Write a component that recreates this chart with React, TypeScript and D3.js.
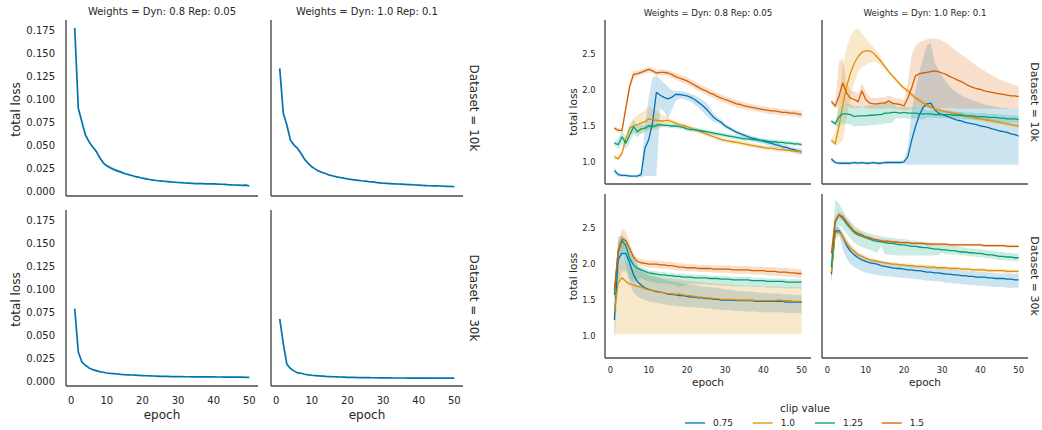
import React from "react";
import * as d3 from "d3";

// ---------------- DATA ----------------
const epochs = d3.range(1, 51);
const colTitles = ["Weights = Dyn: 0.8 Rep: 0.05", "Weights = Dyn: 1.0 Rep: 0.1"];
const rowTitles = ["Dataset = 10k", "Dataset = 30k"];
const clipValues = ["0.75", "1.0", "1.25", "1.5"];
const clipColors = ["#0173b2", "#de8f05", "#029e73", "#d55e00"];
const leftYTicks = [0, 0.025, 0.05, 0.075, 0.1, 0.125, 0.15, 0.175];
const rightYTicks = [1.0, 1.5, 2.0, 2.5];
const xTicks = [0, 10, 20, 30, 40, 50];

// left figure: total loss (single series per facet)
const lossA10 = [
  0.178, 0.0904, 0.0758, 0.0613, 0.054, 0.0485, 0.0437, 0.0368, 0.031, 0.0277,
  0.0255, 0.0237, 0.0222, 0.0208, 0.0193, 0.0182, 0.0171, 0.016, 0.0153, 0.0142,
  0.0135, 0.0128, 0.0122, 0.0117, 0.0113, 0.0109, 0.0105, 0.0101, 0.0098, 0.0095,
  0.0093, 0.009, 0.0088, 0.0086, 0.0084, 0.0083, 0.0082, 0.0081, 0.0081, 0.008,
  0.0078, 0.0076, 0.0074, 0.0071, 0.0069, 0.0068, 0.0066, 0.0064, 0.0066, 0.0058];
const ciA10 = [
  0.001, 0.001, 0.0008, 0.0008, 0.0008, 0.0008, 0.0008, 0.001, 0.0012, 0.0015,
  0.0018, 0.0018, 0.0016, 0.0015, 0.0014, 0.0012, 0.001, 0.0009, 0.0008, 0.0007,
  0.0006, 0.0006, 0.0005, 0.0005, 0.0005, 0.0005, 0.0005, 0.0005, 0.0005, 0.0005,
  0.0005, 0.0005, 0.0005, 0.0005, 0.0005, 0.0005, 0.0005, 0.0005, 0.0005, 0.0005,
  0.0005, 0.0005, 0.0005, 0.0005, 0.0005, 0.0005, 0.0005, 0.0005, 0.0005, 0.0005];
const lossB10 = [
  0.134, 0.085, 0.0722, 0.0558, 0.0503, 0.0467, 0.0412, 0.0347, 0.0303, 0.0266,
  0.0241, 0.0219, 0.0204, 0.019, 0.0175, 0.0166, 0.0157, 0.015, 0.0142, 0.0135,
  0.0129, 0.0124, 0.0119, 0.0114, 0.011, 0.0105, 0.0101, 0.0096, 0.0092, 0.0087,
  0.0085, 0.0083, 0.0081, 0.0079, 0.0077, 0.0075, 0.0073, 0.0071, 0.0068, 0.0066,
  0.0064, 0.0062, 0.006, 0.0059, 0.0058, 0.0057, 0.0055, 0.0054, 0.0052, 0.0051];
const ciB10 = [
  0.0008, 0.0008, 0.0006, 0.0006, 0.0006, 0.0006, 0.0006, 0.0006, 0.0006, 0.0005,
  0.0005, 0.0005, 0.0005, 0.0004, 0.0004, 0.0004, 0.0004, 0.0004, 0.0004, 0.0004,
  0.0004, 0.0004, 0.0004, 0.0004, 0.0004, 0.0004, 0.0004, 0.0004, 0.0004, 0.0004,
  0.0004, 0.0004, 0.0004, 0.0004, 0.0004, 0.0004, 0.0004, 0.0004, 0.0004, 0.0004,
  0.0004, 0.0004, 0.0004, 0.0004, 0.0004, 0.0004, 0.0004, 0.0004, 0.0004, 0.0004];
const lossA30 = [
  0.079, 0.0319, 0.021, 0.0174, 0.0145, 0.0127, 0.0116, 0.0105, 0.0098, 0.009,
  0.0086, 0.0083, 0.0079, 0.0075, 0.0072, 0.007, 0.0068, 0.0066, 0.0064, 0.0062,
  0.006, 0.0059, 0.0057, 0.0056, 0.0054, 0.0053, 0.0052, 0.0051, 0.0051, 0.005,
  0.005, 0.0049, 0.0049, 0.0048, 0.0048, 0.0048, 0.0047, 0.0047, 0.0047, 0.0047,
  0.0046, 0.0046, 0.0045, 0.0045, 0.0045, 0.0044, 0.0044, 0.0044, 0.0043, 0.0043];
const ciA30 = [
  0.0006, 0.0005, 0.0004, 0.0003, 0.0003, 0.0003, 0.0003, 0.0003, 0.0003, 0.0003,
  0.0003, 0.0003, 0.0003, 0.0003, 0.0003, 0.0003, 0.0003, 0.0003, 0.0003, 0.0003,
  0.0003, 0.0003, 0.0003, 0.0003, 0.0003, 0.0003, 0.0003, 0.0003, 0.0003, 0.0003,
  0.0003, 0.0003, 0.0003, 0.0003, 0.0003, 0.0003, 0.0003, 0.0003, 0.0003, 0.0003,
  0.0003, 0.0003, 0.0003, 0.0003, 0.0003, 0.0003, 0.0003, 0.0003, 0.0003, 0.0003];
const lossB30 = [
  0.068, 0.041, 0.0185, 0.0138, 0.0113, 0.0091, 0.0087, 0.0076, 0.007, 0.0065,
  0.0062, 0.0059, 0.0056, 0.0053, 0.0051, 0.0049, 0.0048, 0.0046, 0.0045, 0.0043,
  0.0042, 0.0041, 0.004, 0.004, 0.0039, 0.0039, 0.0038, 0.0038, 0.0037, 0.0036,
  0.0036, 0.0036, 0.0035, 0.0035, 0.0035, 0.0035, 0.0034, 0.0034, 0.0034, 0.0034,
  0.0034, 0.0034, 0.0033, 0.0033, 0.0033, 0.0033, 0.0033, 0.0033, 0.0033, 0.0033];
const ciB30 = [
  0.0006, 0.0005, 0.0004, 0.0003, 0.0003, 0.0003, 0.0003, 0.0003, 0.0003, 0.0003,
  0.0003, 0.0003, 0.0003, 0.0003, 0.0003, 0.0003, 0.0003, 0.0003, 0.0003, 0.0003,
  0.0003, 0.0003, 0.0003, 0.0003, 0.0003, 0.0003, 0.0003, 0.0003, 0.0003, 0.0003,
  0.0003, 0.0003, 0.0003, 0.0003, 0.0003, 0.0003, 0.0003, 0.0003, 0.0003, 0.0003,
  0.0003, 0.0003, 0.0003, 0.0003, 0.0003, 0.0003, 0.0003, 0.0003, 0.0003, 0.0003];

// right figure: total loss by clip value
// --- Dyn 0.8 / 10k ---
const a10_075 = [
  0.88, 0.82, 0.81, 0.81, 0.8, 0.8, 0.8, 0.82, 1.19, 1.31,
  1.55, 1.97, 1.93, 1.9, 1.88, 1.9, 1.94, 1.94, 1.93, 1.92,
  1.9, 1.87, 1.83, 1.79, 1.74, 1.68, 1.62, 1.58, 1.55, 1.5,
  1.47, 1.44, 1.41, 1.39, 1.37, 1.35, 1.33, 1.32, 1.3, 1.29,
  1.27, 1.26, 1.24, 1.23, 1.21, 1.2, 1.18, 1.17, 1.15, 1.14];
const a10_075_lo = [
  0.84, 0.79, 0.79, 0.78, 0.78, 0.78, 0.78, 0.78, 0.8, 0.8,
  0.8, 0.8, 1.75, 1.7, 1.6, 1.72, 1.85, 1.88, 1.88, 1.86,
  1.84, 1.8, 1.76, 1.7, 1.65, 1.6, 1.56, 1.54, 1.51, 1.47,
  1.44, 1.41, 1.38, 1.36, 1.34, 1.32, 1.3, 1.28, 1.26, 1.25,
  1.23, 1.22, 1.2, 1.19, 1.17, 1.16, 1.14, 1.13, 1.11, 1.09];
const a10_075_hi = [
  0.92, 0.85, 0.83, 0.83, 0.82, 0.82, 0.82, 0.86, 1.5, 1.9,
  2.18, 2.2, 2.16, 2.1, 2.05, 2.0, 1.99, 1.99, 1.98, 1.97,
  1.95, 1.93, 1.9, 1.87, 1.83, 1.76, 1.68, 1.62, 1.59, 1.53,
  1.5, 1.47, 1.44, 1.42, 1.4, 1.38, 1.36, 1.35, 1.33, 1.32,
  1.3, 1.29, 1.27, 1.26, 1.24, 1.23, 1.21, 1.2, 1.19, 1.18];
const a10_100 = [
  1.07, 1.04, 1.12, 1.32, 1.47, 1.5, 1.52, 1.54, 1.56, 1.6,
  1.59, 1.58, 1.57, 1.57, 1.58, 1.56, 1.54, 1.52, 1.51, 1.49,
  1.47, 1.45, 1.43, 1.41, 1.39, 1.37, 1.35, 1.33, 1.31, 1.3,
  1.29, 1.28, 1.27, 1.26, 1.25, 1.24, 1.23, 1.22, 1.21, 1.2,
  1.19, 1.19, 1.18, 1.17, 1.17, 1.16, 1.16, 1.15, 1.15, 1.14];
const a10_100_ci = [
  0.03, 0.03, 0.04, 0.05, 0.08, 0.1, 0.13, 0.15, 0.16, 0.16,
  0.15, 0.13, 0.1, 0.07, 0.05, 0.03, 0.03, 0.03, 0.03, 0.03,
  0.03, 0.03, 0.03, 0.03, 0.03, 0.03, 0.03, 0.03, 0.03, 0.03,
  0.03, 0.03, 0.03, 0.03, 0.03, 0.03, 0.03, 0.03, 0.03, 0.03,
  0.03, 0.03, 0.03, 0.03, 0.03, 0.03, 0.03, 0.03, 0.03, 0.03];
const a10_125 = [
  1.26, 1.24, 1.35, 1.26, 1.37, 1.49, 1.42, 1.46, 1.47, 1.5,
  1.49, 1.51, 1.52, 1.51, 1.51, 1.5, 1.5, 1.49, 1.48, 1.46,
  1.45, 1.45, 1.44, 1.43, 1.42, 1.41, 1.4, 1.39, 1.38, 1.37,
  1.36, 1.35, 1.34, 1.33, 1.32, 1.32, 1.31, 1.31, 1.3, 1.3,
  1.29, 1.28, 1.28, 1.27, 1.27, 1.26, 1.26, 1.25, 1.25, 1.24];
const a10_125_ci = [
  0.03, 0.07, 0.1, 0.08, 0.1, 0.1, 0.08, 0.06, 0.04, 0.03,
  0.03, 0.03, 0.03, 0.03, 0.03, 0.03, 0.03, 0.03, 0.03, 0.03,
  0.03, 0.03, 0.03, 0.03, 0.03, 0.03, 0.03, 0.03, 0.03, 0.03,
  0.03, 0.03, 0.03, 0.03, 0.03, 0.03, 0.03, 0.03, 0.03, 0.03,
  0.03, 0.03, 0.03, 0.03, 0.03, 0.03, 0.03, 0.03, 0.03, 0.03];
const a10_150 = [
  1.47, 1.44, 1.44, 1.75, 2.05, 2.22, 2.23, 2.25, 2.27, 2.29,
  2.27, 2.24, 2.25, 2.25, 2.24, 2.22, 2.19, 2.17, 2.15, 2.13,
  2.1, 2.07, 2.04, 2.01, 1.99, 1.96, 1.94, 1.91, 1.89, 1.87,
  1.85, 1.83, 1.81, 1.8, 1.78, 1.77, 1.76, 1.75, 1.74, 1.73,
  1.72, 1.71, 1.71, 1.7, 1.69, 1.69, 1.68, 1.68, 1.67, 1.66];
const a10_150_ci = [
  0.03, 0.03, 0.03, 0.06, 0.06, 0.05, 0.04, 0.04, 0.04, 0.04,
  0.04, 0.04, 0.04, 0.04, 0.04, 0.045, 0.045, 0.05, 0.05, 0.05,
  0.05, 0.05, 0.05, 0.05, 0.05, 0.05, 0.05, 0.05, 0.05, 0.05,
  0.05, 0.05, 0.05, 0.05, 0.05, 0.045, 0.045, 0.045, 0.045, 0.045,
  0.045, 0.045, 0.045, 0.045, 0.045, 0.045, 0.045, 0.045, 0.045, 0.045];

// --- Dyn 1.0 / 10k ---
const b10_075 = [
  1.04, 0.99, 0.98, 0.98, 0.98, 0.98, 0.99, 0.98, 0.99, 0.98,
  0.98, 0.99, 0.98, 0.98, 0.99, 0.99, 0.99, 0.99, 0.99, 1.0,
  1.07, 1.3, 1.49, 1.65, 1.76, 1.81, 1.82, 1.73, 1.68, 1.66,
  1.64, 1.62, 1.6, 1.58, 1.57, 1.55, 1.54, 1.53, 1.52, 1.5,
  1.49, 1.48, 1.46, 1.45, 1.43, 1.42, 1.41, 1.39, 1.38, 1.36];
const b10_075_lo = [
  1.0, 0.97, 0.96, 0.96, 0.96, 0.96, 0.97, 0.96, 0.97, 0.96,
  0.96, 0.97, 0.96, 0.96, 0.97, 0.97, 0.97, 0.97, 0.97, 0.97,
  0.96, 0.96, 0.96, 0.96, 0.96, 0.96, 0.96, 0.96, 0.96, 0.96,
  0.96, 0.96, 0.96, 0.96, 0.96, 0.96, 0.96, 0.96, 0.96, 0.96,
  0.96, 0.96, 0.96, 0.96, 0.96, 0.96, 0.96, 0.96, 0.96, 0.96];
const b10_075_hi = [
  1.08, 1.01, 1.0, 1.0, 1.0, 1.0, 1.01, 1.0, 1.01, 1.0,
  1.0, 1.01, 1.0, 1.0, 1.01, 1.01, 1.01, 1.01, 1.01, 1.03,
  1.2, 1.7, 2.0, 2.25, 2.45, 2.62, 2.66, 2.4, 2.28, 2.2,
  2.12, 2.05, 2.0, 1.96, 1.93, 1.9, 1.88, 1.86, 1.84, 1.82,
  1.8, 1.79, 1.78, 1.77, 1.76, 1.75, 1.75, 1.74, 1.74, 1.74];
const b10_100 = [
  1.3, 1.25, 1.5, 1.8, 2.05, 2.24, 2.38, 2.47, 2.53, 2.55,
  2.55, 2.52, 2.46, 2.4, 2.33, 2.26, 2.2, 2.14, 2.08, 2.03,
  1.99, 1.94, 1.89, 1.86, 1.82, 1.79, 1.76, 1.74, 1.73, 1.71,
  1.7, 1.69, 1.68, 1.67, 1.66, 1.64, 1.63, 1.62, 1.61, 1.6,
  1.59, 1.58, 1.57, 1.56, 1.55, 1.54, 1.53, 1.52, 1.51, 1.5];
const b10_100_lo = [
  1.27, 1.22, 1.25, 1.3, 1.6, 1.9, 2.1, 2.25, 2.32, 2.35,
  2.38, 2.4, 2.38, 2.34, 2.29, 2.23, 2.17, 2.11, 2.05, 2.0,
  1.96, 1.91, 1.86, 1.83, 1.79, 1.76, 1.73, 1.71, 1.7, 1.68,
  1.67, 1.66, 1.65, 1.64, 1.63, 1.61, 1.6, 1.59, 1.58, 1.57,
  1.56, 1.55, 1.54, 1.53, 1.52, 1.51, 1.5, 1.49, 1.48, 1.47];
const b10_100_hi = [
  1.33, 1.4, 1.9, 2.35, 2.6, 2.75, 2.84, 2.87, 2.8, 2.72,
  2.66, 2.6, 2.54, 2.46, 2.37, 2.29, 2.23, 2.17, 2.11, 2.06,
  2.02, 1.97, 1.92, 1.89, 1.85, 1.82, 1.79, 1.77, 1.76, 1.74,
  1.73, 1.72, 1.71, 1.7, 1.69, 1.67, 1.66, 1.65, 1.64, 1.63,
  1.62, 1.61, 1.6, 1.59, 1.58, 1.57, 1.56, 1.55, 1.54, 1.53];
const b10_125 = [
  1.57, 1.53, 1.63, 1.67, 1.67, 1.66, 1.63, 1.64, 1.64, 1.64,
  1.65, 1.65, 1.66, 1.66, 1.68, 1.68, 1.69, 1.69, 1.68, 1.69,
  1.68, 1.68, 1.68, 1.67, 1.67, 1.67, 1.67, 1.66, 1.66, 1.66,
  1.66, 1.66, 1.65, 1.65, 1.65, 1.64, 1.64, 1.64, 1.63, 1.63,
  1.63, 1.62, 1.62, 1.62, 1.61, 1.61, 1.6, 1.6, 1.6, 1.59];
const b10_125_ci = [
  0.02, 0.03, 0.14, 0.14, 0.14, 0.14, 0.14, 0.14, 0.14, 0.14,
  0.14, 0.14, 0.14, 0.14, 0.14, 0.14, 0.14, 0.08, 0.08, 0.08,
  0.08, 0.08, 0.08, 0.08, 0.08, 0.05, 0.05, 0.05, 0.05, 0.05,
  0.05, 0.05, 0.05, 0.05, 0.05, 0.05, 0.05, 0.05, 0.05, 0.05,
  0.05, 0.05, 0.05, 0.05, 0.05, 0.05, 0.05, 0.05, 0.05, 0.05];
const b10_150 = [
  1.84, 1.78, 1.92, 2.1, 1.96, 1.89, 1.87, 1.84, 1.99, 1.87,
  1.82, 1.81, 1.81, 1.82, 1.82, 1.85, 1.82, 1.81, 1.8, 1.78,
  1.89, 2.03, 2.2, 2.23, 2.24, 2.25, 2.26, 2.27, 2.26, 2.24,
  2.22, 2.19, 2.17, 2.14, 2.12, 2.09, 2.06, 2.04, 2.02, 2.01,
  1.99, 1.98, 1.97, 1.96, 1.95, 1.94, 1.93, 1.92, 1.92, 1.91];
const b10_150_lo = [
  1.8, 1.74, 1.78, 1.82, 1.8, 1.75, 1.75, 1.75, 1.78, 1.75,
  1.74, 1.74, 1.74, 1.74, 1.74, 1.75, 1.74, 1.74, 1.73, 1.72,
  1.72, 1.74, 1.75, 1.75, 1.75, 1.75, 1.75, 1.75, 1.75, 1.75,
  1.75, 1.75, 1.75, 1.74, 1.74, 1.74, 1.74, 1.74, 1.74, 1.74,
  1.74, 1.74, 1.74, 1.74, 1.74, 1.74, 1.74, 1.74, 1.74, 1.74];
const b10_150_hi = [
  1.88, 1.82, 2.4, 2.45, 2.1, 2.0, 1.98, 1.95, 2.1, 1.98,
  1.9, 1.89, 1.89, 1.9, 1.9, 1.93, 1.9, 1.89, 1.88, 1.86,
  2.1, 2.5, 2.62, 2.67, 2.69, 2.71, 2.72, 2.72, 2.71, 2.69,
  2.66, 2.62, 2.58, 2.54, 2.5, 2.46, 2.42, 2.38, 2.34, 2.3,
  2.27, 2.24, 2.21, 2.18, 2.15, 2.13, 2.11, 2.09, 2.07, 2.05];

// --- Dyn 0.8 / 30k ---
const a30_075 = [
  1.22, 2.07, 2.15, 2.15, 2.02, 1.85, 1.76, 1.71, 1.67, 1.65,
  1.63, 1.62, 1.61, 1.6, 1.58, 1.58, 1.57, 1.56, 1.56, 1.55,
  1.54, 1.54, 1.53, 1.53, 1.52, 1.52, 1.51, 1.51, 1.5, 1.5,
  1.5, 1.5, 1.49, 1.49, 1.49, 1.49, 1.49, 1.48, 1.48, 1.48,
  1.48, 1.48, 1.48, 1.48, 1.48, 1.47, 1.47, 1.47, 1.47, 1.47];
const a30_075_lo = [
  0.92, 1.7, 1.9, 1.9, 1.75, 1.6, 1.55, 1.52, 1.5, 1.48,
  1.47, 1.46, 1.45, 1.44, 1.43, 1.42, 1.42, 1.41, 1.41, 1.4,
  1.4, 1.4, 1.39, 1.39, 1.38, 1.38, 1.37, 1.37, 1.36, 1.36,
  1.36, 1.35, 1.35, 1.35, 1.34, 1.34, 1.34, 1.34, 1.33, 1.33,
  1.33, 1.33, 1.33, 1.33, 1.33, 1.32, 1.32, 1.32, 1.32, 1.32];
const a30_075_hi = [
  1.5, 2.38, 2.4, 2.35, 2.25, 2.1, 2.0, 1.92, 1.88, 1.85,
  1.83, 1.82, 1.8, 1.79, 1.77, 1.76, 1.75, 1.74, 1.73, 1.72,
  1.71, 1.71, 1.7, 1.69, 1.69, 1.68, 1.67, 1.67, 1.66, 1.65,
  1.65, 1.64, 1.63, 1.63, 1.62, 1.62, 1.61, 1.61, 1.6, 1.6,
  1.6, 1.59, 1.59, 1.59, 1.58, 1.58, 1.58, 1.57, 1.57, 1.57];
const a30_100 = [
  1.34, 1.74, 1.81, 1.76, 1.72, 1.71, 1.69, 1.68, 1.66, 1.64,
  1.63, 1.61, 1.61, 1.6, 1.59, 1.59, 1.58, 1.58, 1.57, 1.56,
  1.56, 1.55, 1.54, 1.54, 1.53, 1.53, 1.52, 1.52, 1.51, 1.51,
  1.51, 1.51, 1.5, 1.5, 1.5, 1.5, 1.5, 1.49, 1.49, 1.49,
  1.49, 1.49, 1.49, 1.5, 1.49, 1.49, 1.49, 1.48, 1.48, 1.48];
const a30_100_lo = [
  1.02, 1.02, 1.02, 1.02, 1.02, 1.02, 1.02, 1.02, 1.02, 1.02,
  1.02, 1.02, 1.02, 1.02, 1.02, 1.02, 1.02, 1.02, 1.02, 1.02,
  1.02, 1.02, 1.02, 1.02, 1.02, 1.02, 1.02, 1.02, 1.02, 1.02,
  1.02, 1.02, 1.02, 1.02, 1.02, 1.02, 1.02, 1.02, 1.02, 1.02,
  1.02, 1.02, 1.02, 1.02, 1.02, 1.02, 1.02, 1.02, 1.02, 1.02];
const a30_100_hi = [
  1.6, 2.05, 2.1, 2.02, 1.98, 1.95, 1.92, 1.9, 1.88, 1.86,
  1.85, 1.83, 1.82, 1.81, 1.8, 1.8, 1.79, 1.79, 1.78, 1.77,
  1.77, 1.76, 1.75, 1.75, 1.74, 1.74, 1.73, 1.73, 1.72, 1.72,
  1.72, 1.71, 1.71, 1.71, 1.7, 1.7, 1.7, 1.7, 1.69, 1.69,
  1.69, 1.69, 1.69, 1.69, 1.68, 1.68, 1.68, 1.68, 1.68, 1.68];
const a30_125 = [
  1.57, 2.17, 2.33, 2.26, 2.08, 1.99, 1.94, 1.92, 1.9, 1.88,
  1.87, 1.86, 1.85, 1.85, 1.84, 1.84, 1.83, 1.83, 1.82, 1.82,
  1.82, 1.81, 1.81, 1.81, 1.81, 1.8, 1.8, 1.8, 1.79, 1.79,
  1.79, 1.78, 1.78, 1.78, 1.78, 1.78, 1.77, 1.77, 1.77, 1.77,
  1.76, 1.76, 1.76, 1.76, 1.76, 1.75, 1.75, 1.75, 1.75, 1.75];
const a30_125_lo = [
  1.5, 2.0, 2.15, 2.0, 1.8, 1.75, 1.8, 1.8, 1.78, 1.76,
  1.75, 1.74, 1.73, 1.73, 1.72, 1.72, 1.71, 1.68, 1.7, 1.71,
  1.72, 1.72, 1.72, 1.72, 1.72, 1.71, 1.71, 1.71, 1.7, 1.7,
  1.7, 1.69, 1.69, 1.69, 1.69, 1.69, 1.68, 1.68, 1.68, 1.68,
  1.67, 1.67, 1.67, 1.67, 1.67, 1.66, 1.66, 1.66, 1.66, 1.66];
const a30_125_hi = [
  1.65, 2.3, 2.4, 2.35, 2.15, 2.05, 1.98, 1.96, 1.94, 1.92,
  1.91, 1.9, 1.89, 1.89, 1.88, 1.88, 1.87, 1.87, 1.86, 1.86,
  1.86, 1.85, 1.85, 1.85, 1.85, 1.84, 1.84, 1.84, 1.83, 1.83,
  1.83, 1.82, 1.82, 1.82, 1.82, 1.82, 1.81, 1.81, 1.81, 1.81,
  1.8, 1.8, 1.8, 1.8, 1.8, 1.79, 1.79, 1.79, 1.79, 1.79];
const a30_150 = [
  1.64, 2.19, 2.35, 2.33, 2.22, 2.1, 2.04, 2.02, 2.01, 2.0,
  2.0, 2.0, 1.99, 1.99, 1.98, 1.98, 1.97, 1.96, 1.96, 1.95,
  1.95, 1.95, 1.94, 1.94, 1.94, 1.94, 1.93, 1.93, 1.93, 1.93,
  1.93, 1.92, 1.92, 1.92, 1.92, 1.92, 1.91, 1.91, 1.91, 1.91,
  1.9, 1.9, 1.9, 1.89, 1.89, 1.89, 1.88, 1.88, 1.87, 1.87];
const a30_150_ci = [
  0.06, 0.12, 0.15, 0.12, 0.08, 0.06, 0.05, 0.05, 0.05, 0.05,
  0.05, 0.05, 0.05, 0.05, 0.05, 0.05, 0.05, 0.05, 0.05, 0.05,
  0.05, 0.05, 0.05, 0.05, 0.05, 0.05, 0.05, 0.05, 0.05, 0.05,
  0.055, 0.055, 0.055, 0.055, 0.055, 0.055, 0.055, 0.055, 0.055, 0.055,
  0.06, 0.06, 0.06, 0.06, 0.06, 0.06, 0.06, 0.06, 0.06, 0.06];

// --- Dyn 1.0 / 30k ---
const b30_075 = [
  1.86, 2.46, 2.47, 2.38, 2.26, 2.18, 2.13, 2.09, 2.06, 2.04,
  2.02, 2.01, 2.0, 1.98, 1.97, 1.96, 1.95, 1.94, 1.94, 1.93,
  1.92, 1.92, 1.91, 1.91, 1.9, 1.89, 1.89, 1.88, 1.88, 1.87,
  1.86, 1.86, 1.85, 1.85, 1.84, 1.84, 1.83, 1.83, 1.82, 1.82,
  1.82, 1.81, 1.81, 1.8, 1.8, 1.8, 1.79, 1.79, 1.78, 1.78];
const b30_075_lo = [
  1.72, 2.4, 2.42, 2.2, 2.08, 2.0, 1.96, 1.93, 1.9, 1.88,
  1.87, 1.86, 1.85, 1.84, 1.83, 1.83, 1.82, 1.82, 1.81, 1.81,
  1.8, 1.8, 1.79, 1.79, 1.78, 1.77, 1.77, 1.76, 1.76, 1.75,
  1.74, 1.74, 1.73, 1.73, 1.72, 1.72, 1.71, 1.71, 1.7, 1.7,
  1.7, 1.69, 1.69, 1.68, 1.68, 1.68, 1.67, 1.67, 1.67, 1.67];
const b30_075_hi = [
  1.98, 2.52, 2.52, 2.46, 2.34, 2.26, 2.2, 2.15, 2.12, 2.1,
  2.08, 2.07, 2.06, 2.04, 2.03, 2.02, 2.01, 2.0, 2.0, 1.99,
  1.98, 1.98, 1.97, 1.97, 1.96, 1.96, 1.96, 1.95, 1.95, 1.94,
  1.93, 1.93, 1.92, 1.92, 1.91, 1.91, 1.9, 1.9, 1.89, 1.89,
  1.89, 1.88, 1.88, 1.87, 1.87, 1.87, 1.87, 1.87, 1.86, 1.87];
const b30_100 = [
  1.89, 2.43, 2.45, 2.38, 2.29, 2.22, 2.18, 2.13, 2.11, 2.08,
  2.06, 2.05, 2.04, 2.03, 2.02, 2.01, 2.0, 2.0, 1.99, 1.99,
  1.98, 1.98, 1.97, 1.97, 1.97, 1.96, 1.96, 1.96, 1.95, 1.95,
  1.95, 1.94, 1.94, 1.94, 1.93, 1.93, 1.93, 1.92, 1.92, 1.92,
  1.92, 1.91, 1.91, 1.91, 1.91, 1.91, 1.9, 1.9, 1.9, 1.9];
const b30_100_ci = [
  0.15, 0.08, 0.06, 0.06, 0.06, 0.05, 0.05, 0.04, 0.04, 0.03,
  0.025, 0.025, 0.025, 0.025, 0.025, 0.025, 0.025, 0.025, 0.025, 0.025,
  0.025, 0.025, 0.025, 0.025, 0.025, 0.025, 0.025, 0.025, 0.025, 0.025,
  0.025, 0.025, 0.025, 0.025, 0.025, 0.025, 0.025, 0.025, 0.025, 0.025,
  0.025, 0.025, 0.025, 0.025, 0.025, 0.025, 0.025, 0.025, 0.025, 0.025];
const b30_125 = [
  1.96, 2.59, 2.69, 2.64, 2.56, 2.5, 2.44, 2.41, 2.39, 2.37,
  2.35, 2.33, 2.32, 2.31, 2.3, 2.29, 2.29, 2.28, 2.27, 2.27,
  2.26, 2.25, 2.25, 2.24, 2.23, 2.23, 2.22, 2.21, 2.21, 2.2,
  2.2, 2.19, 2.19, 2.18, 2.17, 2.17, 2.16, 2.16, 2.15, 2.15,
  2.14, 2.13, 2.13, 2.12, 2.11, 2.11, 2.1, 2.1, 2.09, 2.09];
const b30_125_lo = [
  1.75, 2.4, 2.55, 2.5, 2.42, 2.36, 2.3, 2.26, 2.24, 2.22,
  2.2, 2.18, 2.16, 2.25, 2.14, 2.13, 2.13, 2.12, 2.12, 2.12,
  2.12, 2.12, 2.12, 2.12, 2.12, 2.12, 2.12, 2.12, 2.13, 2.16,
  2.14, 2.14, 2.13, 2.13, 2.12, 2.12, 2.11, 2.11, 2.1, 2.1,
  2.09, 2.08, 2.08, 2.07, 2.06, 2.06, 2.05, 2.05, 2.04, 2.04];
const b30_125_hi = [
  2.1, 2.9, 2.85, 2.75, 2.66, 2.6, 2.54, 2.5, 2.47, 2.45,
  2.43, 2.41, 2.4, 2.39, 2.38, 2.37, 2.37, 2.36, 2.35, 2.35,
  2.34, 2.33, 2.33, 2.32, 2.31, 2.31, 2.3, 2.29, 2.29, 2.28,
  2.27, 2.26, 2.26, 2.25, 2.24, 2.23, 2.22, 2.22, 2.21, 2.21,
  2.2, 2.19, 2.19, 2.18, 2.17, 2.17, 2.16, 2.16, 2.15, 2.15];
const b30_150 = [
  2.15, 2.61, 2.69, 2.66, 2.59, 2.52, 2.46, 2.43, 2.41, 2.38,
  2.37, 2.35, 2.34, 2.33, 2.32, 2.32, 2.31, 2.31, 2.3, 2.3,
  2.3, 2.29, 2.29, 2.29, 2.29, 2.28, 2.28, 2.28, 2.28, 2.28,
  2.28, 2.27, 2.27, 2.27, 2.27, 2.27, 2.27, 2.27, 2.27, 2.27,
  2.26, 2.26, 2.26, 2.26, 2.26, 2.26, 2.25, 2.25, 2.25, 2.25];
const b30_150_ci = [
  0.05, 0.06, 0.05, 0.05, 0.05, 0.05, 0.04, 0.04, 0.03, 0.03,
  0.02, 0.02, 0.02, 0.02, 0.02, 0.02, 0.02, 0.02, 0.02, 0.02,
  0.02, 0.02, 0.02, 0.02, 0.02, 0.02, 0.02, 0.02, 0.02, 0.02,
  0.02, 0.02, 0.02, 0.02, 0.02, 0.02, 0.02, 0.02, 0.02, 0.02,
  0.02, 0.02, 0.02, 0.02, 0.02, 0.02, 0.02, 0.02, 0.02, 0.02];

// ---------------- LAYOUT / STYLE ----------------
const FONT = "'DejaVu Sans', Verdana, sans-serif";
const TEXT = "#262626";
const SPINE = "#4a4a4a";
const X_DOMAIN: [number, number] = [-1.45, 52.45];
const LEFT_Y: [number, number] = [-0.0052, 0.1867];
const RIGHT_Y: [number, number] = [0.69, 2.98];
const L_COLS = [[66, 258], [271, 463]];
const L_ROWS = [[20, 196], [210, 386]];
const R_COLS = [[605, 811], [822, 1028]];
const R_ROWS = [[20, 184], [194, 358]];

type S = { color: string; mean: number[]; lo: number[]; hi: number[] };
const sym = (color: string, mean: number[], ci: number[]): S => ({
  color, mean, lo: mean.map((m, i) => m - ci[i]), hi: mean.map((m, i) => m + ci[i]),
});
const asym = (color: string, mean: number[], lo: number[], hi: number[]): S => ({ color, mean, lo, hi });

const leftData: S[][] = [
  [sym(clipColors[0], lossA10, ciA10), sym(clipColors[0], lossB10, ciB10)],
  [sym(clipColors[0], lossA30, ciA30), sym(clipColors[0], lossB30, ciB30)],
];
const rightData: S[][][] = [
  [
    [asym(clipColors[0], a10_075, a10_075_lo, a10_075_hi), sym(clipColors[1], a10_100, a10_100_ci),
     sym(clipColors[2], a10_125, a10_125_ci), sym(clipColors[3], a10_150, a10_150_ci)],
    [asym(clipColors[0], b10_075, b10_075_lo, b10_075_hi), asym(clipColors[1], b10_100, b10_100_lo, b10_100_hi),
     sym(clipColors[2], b10_125, b10_125_ci), asym(clipColors[3], b10_150, b10_150_lo, b10_150_hi)],
  ],
  [
    [asym(clipColors[0], a30_075, a30_075_lo, a30_075_hi), asym(clipColors[1], a30_100, a30_100_lo, a30_100_hi),
     asym(clipColors[2], a30_125, a30_125_lo, a30_125_hi), sym(clipColors[3], a30_150, a30_150_ci)],
    [asym(clipColors[0], b30_075, b30_075_lo, b30_075_hi), sym(clipColors[1], b30_100, b30_100_ci),
     asym(clipColors[2], b30_125, b30_125_lo, b30_125_hi), sym(clipColors[3], b30_150, b30_150_ci)],
  ],
];

type PanelProps = {
  cx: number[]; cy: number[]; yDomain: [number, number]; series: S[];
  yTicks: number[]; yFmt: (v: number) => string; showY: boolean; showX: boolean;
  tickSize: number; tickGap: number; xTickBase: number; lineW: number;
};

function Panel(p: PanelProps) {
  const x = d3.scaleLinear().domain(X_DOMAIN).range([p.cx[0], p.cx[1]]);
  const y = d3.scaleLinear().domain(p.yDomain).range([p.cy[1], p.cy[0]]);
  const line = (arr: number[]) =>
    d3.line<number>().x((_, i) => x(epochs[i])).y((v) => y(v))(arr) || "";
  const area = (s: S) =>
    d3.area<number>().x((_, i) => x(epochs[i])).y0((_, i) => y(s.lo[i])).y1((_, i) => y(s.hi[i]))(s.mean) || "";
  return (
    <g>
      {p.series.map((s, i) => (
        <path key={"b" + i} d={area(s)} fill={s.color} fillOpacity={0.2} stroke="none" />
      ))}
      {p.series.map((s, i) => (
        <path key={"l" + i} d={line(s.mean)} fill="none" stroke={s.color} strokeWidth={p.lineW}
          strokeLinejoin="round" strokeLinecap="butt" />
      ))}
      <line x1={p.cx[0]} x2={p.cx[0]} y1={p.cy[0]} y2={p.cy[1]} stroke={SPINE} strokeWidth={1.4} />
      <line x1={p.cx[0]} x2={p.cx[1]} y1={p.cy[1]} y2={p.cy[1]} stroke={SPINE} strokeWidth={1.4} />
      {p.showY && p.yTicks.map((t) => (
        <text key={"yt" + t} x={p.cx[0] - p.tickGap} y={y(t)} dy="0.36em" textAnchor="end"
          fontSize={p.tickSize} fill={TEXT} fontFamily={FONT}>{p.yFmt(t)}</text>
      ))}
      {p.showX && xTicks.map((t) => (
        <text key={"xt" + t} x={x(t)} y={p.xTickBase} textAnchor="middle"
          fontSize={p.tickSize} fill={TEXT} fontFamily={FONT}>{t}</text>
      ))}
    </g>
  );
}

export default function App() {
  const f3 = d3.format(".3f");
  const f1 = d3.format(".1f");
  const legendX = [685, 752.7, 815, 881.7];
  return (
    <svg width={1042} height={430} style={{ position: "absolute", left: 0, top: 0, background: "#fff" }}>
      <rect width={1042} height={430} fill="#fff" />
      {/* LEFT FIGURE */}
      {L_ROWS.map((cy, r) =>
        L_COLS.map((cx, c) => (
          <Panel key={`L${r}${c}`} cx={cx} cy={cy} yDomain={LEFT_Y} series={[leftData[r][c]]}
            yTicks={leftYTicks} yFmt={f3} showY={c === 0} showX={r === 1}
            tickSize={10} tickGap={11} xTickBase={404} lineW={1.7} />
        ))
      )}
      {L_COLS.map((cx, c) => (
        <text key={"lt" + c} x={(cx[0] + cx[1]) / 2} y={15.3} textAnchor="middle" fontSize={10}
          fill={TEXT} fontFamily={FONT}>{colTitles[c]}</text>
      ))}
      {L_ROWS.map((cy, r) => (
        <text key={"lr" + r} transform={`translate(474,${(cy[0] + cy[1]) / 2}) rotate(90)`} dy="0.36em"
          textAnchor="middle" fontSize={12} fill={TEXT} fontFamily={FONT}>{rowTitles[r]}</text>
      ))}
      {L_ROWS.map((cy, r) => (
        <text key={"ly" + r} transform={`translate(16,${(cy[0] + cy[1]) / 2 + 1.5}) rotate(-90)`} dy="0.36em"
          textAnchor="middle" fontSize={12} fill={TEXT} fontFamily={FONT}>total loss</text>
      ))}
      {L_COLS.map((cx, c) => (
        <text key={"lx" + c} x={(cx[0] + cx[1]) / 2} y={418.5} textAnchor="middle" fontSize={12}
          fill={TEXT} fontFamily={FONT}>epoch</text>
      ))}

      {/* RIGHT FIGURE */}
      {R_ROWS.map((cy, r) =>
        R_COLS.map((cx, c) => (
          <Panel key={`R${r}${c}`} cx={cx} cy={cy} yDomain={RIGHT_Y} series={rightData[r][c]}
            yTicks={rightYTicks} yFmt={f1} showY={c === 0} showX={r === 1}
            tickSize={8.4} tickGap={9.5} xTickBase={373.3} lineW={1.3} />
        ))
      )}
      {R_COLS.map((cx, c) => (
        <text key={"rt" + c} x={(cx[0] + cx[1]) / 2} y={16.3} textAnchor="middle" fontSize={8.7}
          fill={TEXT} fontFamily={FONT}>{colTitles[c]}</text>
      ))}
      {R_ROWS.map((cy, r) => (
        <text key={"rr" + r} transform={`translate(1034.5,${(cy[0] + cy[1]) / 2}) rotate(90)`} dy="0.36em"
          textAnchor="middle" fontSize={11} fill={TEXT} fontFamily={FONT}>{rowTitles[r]}</text>
      ))}
      {R_ROWS.map((cy, r) => (
        <text key={"ry" + r} transform={`translate(573,${r === 0 ? 112 : 276.5}) rotate(-90)`} dy="0.36em"
          textAnchor="middle" fontSize={10.5} fill={TEXT} fontFamily={FONT}>total loss</text>
      ))}
      {R_COLS.map((cx, c) => (
        <text key={"rx" + c} x={(cx[0] + cx[1]) / 2} y={385.5} textAnchor="middle" fontSize={10.5}
          fill={TEXT} fontFamily={FONT}>epoch</text>
      ))}

      {/* LEGEND */}
      <text x={805} y={412.2} textAnchor="middle" fontSize={10.4} fill={TEXT} fontFamily={FONT}>clip value</text>
      {clipValues.map((v, i) => (
        <g key={"lg" + i}>
          <line x1={legendX[i]} x2={legendX[i] + 20} y1={423} y2={423} stroke={clipColors[i]} strokeWidth={1.3} />
          <text x={legendX[i] + 28} y={425.8} fontSize={9} fill={TEXT} fontFamily={FONT}>{v}</text>
        </g>
      ))}
    </svg>
  );
}
